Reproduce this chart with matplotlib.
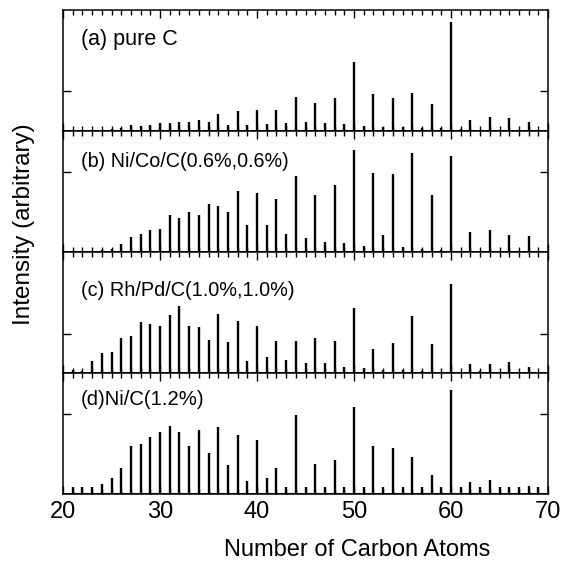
import matplotlib
matplotlib.use("Agg")
import matplotlib.pyplot as plt
import numpy as np
from matplotlib.ticker import MultipleLocator

plt.rcParams['font.family'] = ['Liberation Sans', 'DejaVu Sans']

# carbon cluster sizes and peak intensities (arbitrary units)
carbons = np.arange(20, 70)

pure_c = [0.5, 0.5, 0.5, 1, 1, 2, 3, 6, 5, 6, 8, 8, 9, 9, 11, 9, 17, 6, 20, 6,
          21, 7, 21, 8, 34, 9, 28, 8, 33, 7, 69, 5, 37, 4, 33, 4, 38, 3, 27, 3,
          109, 2, 11, 1, 14, 1, 13, 1, 9, 1]
ni_co_c = [1, 1, 1, 1, 2, 3, 8, 15, 18, 22, 23, 37, 34, 40, 37, 48, 46, 40, 61, 27,
           59, 27, 53, 18, 76, 14, 57, 10, 67, 9, 102, 6, 79, 17, 78, 5, 99, 3, 57, 2,
           96, 1, 20, 1, 22, 1, 17, 1, 16, 1]
rh_pd_c = [1, 3, 2, 12, 20, 21, 35, 37, 51, 49, 47, 58, 67, 47, 46, 33, 59, 31, 52, 12,
           47, 16, 32, 13, 32, 10, 35, 10, 32, 6, 65, 5, 24, 3, 30, 3, 57, 2, 29, 1,
           89, 1, 9, 2, 9, 1, 11, 1, 6, 1]
ni_c = [1, 7, 7, 7, 10, 16, 26, 48, 50, 57, 62, 68, 62, 48, 64, 41, 67, 29, 59, 13,
        54, 16, 26, 7, 79, 7, 30, 7, 34, 7, 87, 7, 48, 7, 46, 7, 37, 7, 19, 7,
        104, 7, 12, 7, 14, 7, 7, 7, 8, 7]

# negative glitches seen in the Ni/Co spectrum
dip_pos = [45.5, 48.9, 53.0]
dip_depth = [-7, -9, -7]

labels = ['(a) pure C', '(b) Ni/Co/C(0.6%,0.6%)',
          '(c) Rh/Pd/C(1.0%,1.0%)', '(d)Ni/C(1.2%)']
label_size = [15.5, 14.2, 14.3, 14.6]
spectra = [pure_c, ni_co_c, rh_pd_c, ni_c]
ytick_pos = [40, 80, 39, 80]
label_y = [0.71, 0.70, 0.636, 0.735]

fig, axes = plt.subplots(4, 1, sharex=True, figsize=(5.71, 5.63), dpi=100)
fig.subplots_adjust(left=63/571, right=548/571, top=1-10/563, bottom=1-494/563,
                    hspace=0)

for i, ax in enumerate(axes):
    ax.vlines(carbons, 0, spectra[i], color='black', lw=1.7)
    if i == 1:
        ax.vlines(dip_pos, 0, dip_depth, color='black', lw=1.2, clip_on=False)
    ax.axhline(0, color='black', lw=1.4)
    ax.set_xlim(20, 70)
    ax.set_ylim(0, 121)
    ax.set_yticks([ytick_pos[i]])
    ax.set_yticklabels([])
    ax.xaxis.set_major_locator(MultipleLocator(10))
    ax.xaxis.set_minor_locator(MultipleLocator(1))
    ax.tick_params(which='both', direction='in', top=True, right=True, width=1)
    ax.tick_params(which='major', length=6)
    ax.tick_params(which='minor', length=3.5)
    ax.tick_params(axis='x', labelsize=17, pad=5)
    for sp in ax.spines.values():
        sp.set_linewidth(1.1)
    ax.text(0.037, label_y[i], labels[i], transform=ax.transAxes,
            fontsize=label_size[i], va='baseline', ha='left')

fig.text(357/571, 1-550/563, 'Number of Carbon Atoms', fontsize=17,
         ha='center', va='center')
fig.text(24/571, 1-224/563, 'Intensity (arbitrary)', fontsize=17.5,
         ha='center', va='center', rotation=90)

plt.savefig('out.png', dpi=100)
